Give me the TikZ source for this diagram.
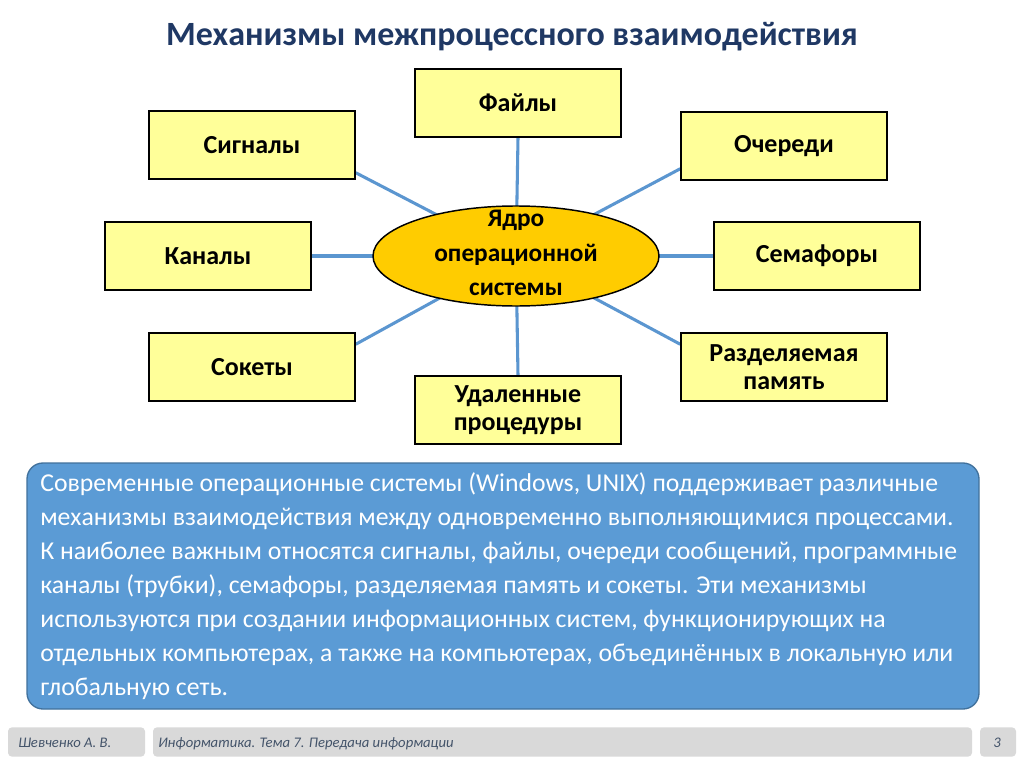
\documentclass[tikz,border=0pt]{standalone}
\usepackage{fontspec}
\setmainfont{Carlito}
\usetikzlibrary{shapes.geometric,backgrounds,calc}
\definecolor{titleblue}{HTML}{1F3864}
\definecolor{boxyellow}{HTML}{FFFF99}
\definecolor{kernelgold}{HTML}{FFCC00}
\definecolor{linkblue}{HTML}{5B96D0}
\definecolor{infofill}{HTML}{5B9BD5}
\definecolor{infoborder}{HTML}{41719C}
\definecolor{footgray}{HTML}{D9D9D9}
\definecolor{foottext}{HTML}{44546A}
\tikzset{
  mech/.style={draw=black, line width=1.1pt, fill=boxyellow, minimum width=154.5pt, minimum height=51pt,
    inner sep=2pt, align=center, font=\fontsize{19.5}{21}\selectfont\bfseries},
  kernel/.style={ellipse, draw=black, line width=1.1pt, fill=kernelgold, minimum width=214.5pt,
    minimum height=75pt, inner sep=0pt},
  link/.style={draw=linkblue, line width=2.3pt},
  infobox/.style={draw=infoborder, line width=1pt, fill=infofill, rounded corners=12pt,
    minimum width=714pt, minimum height=184.5pt, inner xsep=10pt, text width=694pt, align=flush left,
    text=white, font=\fontsize{19.3}{25.5}\selectfont},
  footbox/.style={fill=footgray, rounded corners=3pt, minimum height=22pt, inner sep=0pt},
  foottxt/.style={text=foottext, font=\fontsize{11}{13}\selectfont\itshape, inner sep=0pt, anchor=base west},
  titletxt/.style={text=titleblue, font=\fontsize{25.5}{30}\selectfont\bfseries}
}
\begin{document}
\begin{tikzpicture}[x=0.75pt,y=-0.75pt]
\useasboundingbox (0,0) rectangle (1024,767);

\node[titletxt] (title) at (512,37) {Механизмы межпроцессного взаимодействия};

\node[kernel] (kern) at (516,256) {\raisebox{-3pt}[0pt][0pt]{\makebox[0pt]{\fontsize{19}{26}\selectfont\bfseries\begin{tabular}{@{}c@{}}Ядро\\операционной\\системы\end{tabular}}}};

\node[mech] (files) at (518,103) {Файлы};
\node[mech] (sig) at (252,145) {Сигналы};
\node[mech] (queue) at (784,146) {Очереди};
\node[mech] (pipe) at (208,256) {Каналы};
\node[mech] (sem) at (817,256) {Семафоры};
\node[mech] (sock) at (252,367) {Сокеты};
\node[mech] (shm) at (784,367) {Разделяемая\\память};
\node[mech] (rpc) at (518,410) {Удаленные\\процедуры};

\begin{scope}[on background layer]
\fill[white] (0,0) rectangle (1024,767);
\draw[link] (kern.center) -- (files.south);
\draw[link] (kern.center) -- (rpc.north);
\draw[link] (kern.center) -- (pipe.east);
\draw[link] (kern.center) -- (sem.west);
\draw[link] (kern.center) -- ($(sig.south east)+(0,-7)$);
\draw[link] (kern.center) -- ($(queue.south west)+(0,-12)$);
\draw[link] (kern.center) -- ($(sock.north east)+(0,12)$);
\draw[link] (kern.center) -- ($(shm.north west)+(0,12)$);
\end{scope}

\node[infobox] (info) at (503,586) {Современные операционные системы (Windows, UNIX) поддерживает различные\\
механизмы взаимодействия между одновременно выполняющимися процессами.\\
К наиболее важным относятся сигналы, файлы, очереди сообщений, программные\\
каналы (трубки), семафоры, разделяемая память и сокеты. Эти механизмы\\
используются при создании информационных систем, функционирующих на\\
отдельных компьютерах, а также на компьютерах, объединённых в локальную или\\
глобальную сеть.};

\node[footbox, minimum width=102.75pt] (f1) at (76.5,742) {};
\node[footbox, minimum width=614.25pt] (f2) at (562.5,742) {};
\node[footbox, minimum width=27pt] (f3) at (998,742) {};
\node[foottxt] (a1) at (18,747) {Шевченко А. В.};
\node[foottxt] (a2) at (158,747) {Информатика. Тема 7. Передача информации};
\node[foottxt] (a3) at (993,747) {3};
\end{tikzpicture}
\end{document}
